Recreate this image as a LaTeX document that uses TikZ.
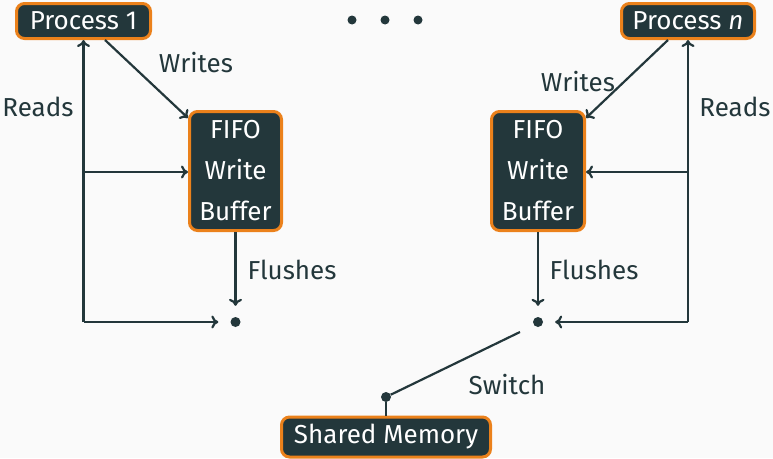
\documentclass[tikz,border=0pt]{standalone}
\usepackage{fontspec}
\setmainfont{Fira Sans}
\usetikzlibrary{arrows.meta}
\definecolor{mteal}{HTML}{23373B}
\definecolor{morange}{HTML}{EB811B}
\definecolor{mbg}{HTML}{FAFAFA}
\tikzset{
  box/.style={draw=morange, fill=mteal, text=white, line width=3pt,
    rounded corners=8pt, inner sep=0pt, align=center},
  lbl/.style={text=mteal, inner sep=0pt},
  dot/.style={circle, fill=mteal, inner sep=0pt, minimum size=10pt},
  arr/.style={draw=mteal, line width=2.2pt, -{To[length=7pt,width=13pt]}},
  wire/.style={draw=mteal, line width=2.2pt},
}
\begin{document}
\begin{tikzpicture}[x=1pt, y=-1pt, font=\fontsize{26}{32}\selectfont]
  \fill[mbg] (0,0) rectangle (773,458);
  \useasboundingbox (0,0) rectangle (773,458);

  % processes and buffers
  \node[box, minimum width=134pt, minimum height=35pt] (p1) at (83.5,21) {Process 1};
  \node[box, minimum width=133pt, minimum height=35pt] (pn) at (688,21) {Process \textit{n}};
  \node[box, minimum width=92pt, minimum height=119pt, font=\fontsize{26}{41}\selectfont] (f1) at (235.5,171) {FIFO\\Write\\Buffer};
  \node[box, minimum width=93pt, minimum height=119pt, font=\fontsize{26}{41}\selectfont] (fn) at (538,171) {FIFO\\Write\\Buffer};
  \node[box, minimum width=209pt, minimum height=40pt] (sm) at (386,437) {Shared Memory};

  % ellipsis between the processes
  \node[dot, minimum size=9pt] (e1) at (352,20) {};
  \node[dot, minimum size=9pt] (e2) at (385,20) {};
  \node[dot, minimum size=9pt] (e3) at (418,20) {};

  % junction points and switch
  \node[dot] (j1) at (235.5,322) {};
  \node[dot] (jn) at (538,322) {};
  \node[dot] (s) at (386,397) {};
  \coordinate (sw) at (520,332);

  % left side
  \coordinate (c1) at (83.5,322);
  \coordinate (b1) at (83.5,172);
  \draw[arr] ([xshift=21.5pt]p1.south) -- ([yshift=-8pt]f1.north west);
  \draw[arr] (c1) -- (c1 |- p1.south);
  \draw[arr] (b1) -- (b1 -| f1.west);
  \draw[arr, shorten >=12pt] (c1) -- (j1);
  \draw[arr, shorten >=11pt] (f1.south) -- (j1);

  % right side
  \coordinate (cn) at (688,322);
  \coordinate (bn) at (688,172);
  \draw[arr] ([xshift=-20pt]pn.south) -- ([yshift=-8pt]fn.north east);
  \draw[arr] (cn) -- (cn |- pn.south);
  \draw[arr] (bn) -- (bn -| fn.east);
  \draw[arr, shorten >=12pt] (cn) -- (jn);
  \draw[arr, shorten >=11pt] (fn.south) -- (jn);

  % switch to shared memory
  \draw[wire] (s) -- (sw);
  \draw[wire] (s) -- (sm.north);

  % labels
  \node[lbl] (lw1) at (196,63) {Writes};
  \node[lbl] (lwn) at (578,82) {Writes};
  \node[lbl] (lr1) at (38,107) {Reads};
  \node[lbl] (lrn) at (735,107) {Reads};
  \node[lbl] (lf1) at (292,270) {Flushes};
  \node[lbl] (lfn) at (594,270) {Flushes};
  \node[lbl] (ls) at (507,385) {Switch};
\end{tikzpicture}
\end{document}
